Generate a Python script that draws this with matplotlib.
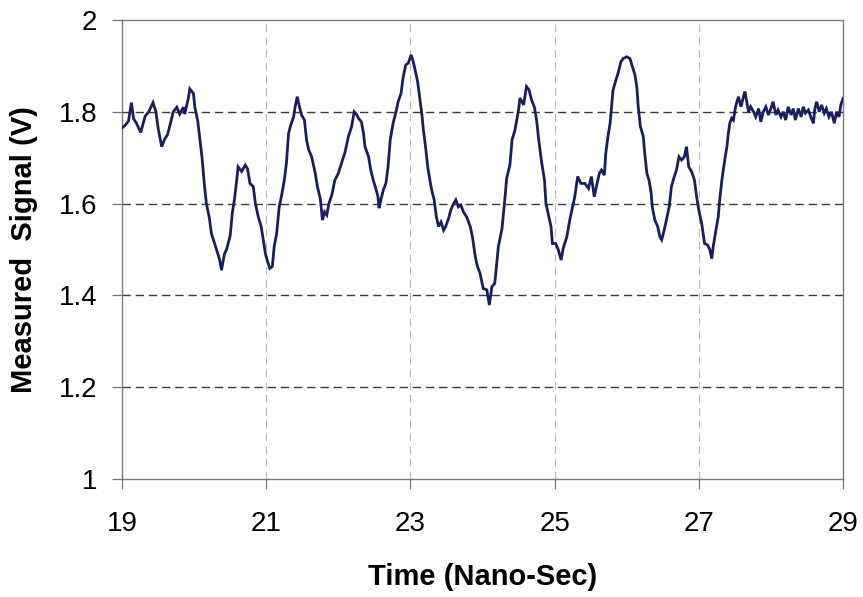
import matplotlib
matplotlib.use("Agg")
import matplotlib.pyplot as plt

# Time (ns)
time_ns = [
    19.00, 19.04, 19.09, 19.13, 19.16, 19.20, 19.26, 19.32, 19.37, 19.43,
    19.47, 19.50, 19.55, 19.59, 19.63, 19.68, 19.71, 19.76, 19.80, 19.85,
    19.87, 19.92, 19.94, 19.99, 20.01, 20.05, 20.08, 20.11, 20.14, 20.17,
    20.21, 20.24, 20.28, 20.31, 20.35, 20.38, 20.42, 20.45, 20.50, 20.53,
    20.56, 20.59, 20.61, 20.66, 20.71, 20.74, 20.775, 20.82, 20.85, 20.89,
    20.93, 20.96, 20.99, 21.02, 21.05, 21.085, 21.11, 21.145, 21.18, 21.21,
    21.25, 21.28, 21.31, 21.34, 21.38, 21.40, 21.43, 21.455, 21.49, 21.53,
    21.56, 21.59, 21.63, 21.68, 21.71, 21.75, 21.78, 21.81, 21.84, 21.87,
    21.91, 21.95, 22.00, 22.05, 22.09, 22.14, 22.185, 22.22, 22.25, 22.28,
    22.32, 22.35, 22.37, 22.42, 22.45, 22.49, 22.52, 22.55, 22.565, 22.59,
    22.625, 22.66, 22.69, 22.72, 22.76, 22.80, 22.83, 22.87, 22.90, 22.935,
    22.97, 23.01, 23.04, 23.065, 23.10, 23.13, 23.16, 23.18, 23.21, 23.24,
    23.27, 23.30, 23.33, 23.36, 23.39, 23.425, 23.46, 23.49, 23.53, 23.56,
    23.60, 23.63, 23.665, 23.70, 23.735, 23.78, 23.83, 23.86, 23.90, 23.93,
    23.966, 24.01, 24.06, 24.095, 24.13, 24.17, 24.22, 24.27, 24.31, 24.335,
    24.38, 24.41, 24.45, 24.50, 24.52, 24.57, 24.61, 24.645, 24.68, 24.72,
    24.75, 24.78, 24.82, 24.86, 24.88, 24.91, 24.95, 24.97, 25.015, 25.05,
    25.09, 25.12, 25.17, 25.21, 25.245, 25.28, 25.32, 25.365, 25.42, 25.47,
    25.51, 25.55, 25.58, 25.62, 25.65, 25.69, 25.71, 25.74, 25.77, 25.79,
    25.81, 25.85, 25.88, 25.92, 25.95, 26.00, 26.045, 26.08, 26.115, 26.14,
    26.16, 26.19, 26.23, 26.25, 26.28, 26.31, 26.34, 26.355, 26.39, 26.43,
    26.46, 26.485, 26.52, 26.55, 26.59, 26.62, 26.66, 26.69, 26.725, 26.76,
    26.80, 26.83, 26.86, 26.90, 26.94, 26.97, 27.00, 27.04, 27.08, 27.12,
    27.155, 27.18, 27.20, 27.23, 27.27, 27.29, 27.32, 27.34, 27.36, 27.39,
    27.41, 27.43, 27.456, 27.48, 27.51, 27.55, 27.585, 27.62, 27.64, 27.66,
    27.69, 27.72, 27.76, 27.79, 27.83, 27.86, 27.895, 27.93, 27.965, 28.00,
    28.03, 28.07, 28.10, 28.14, 28.17, 28.205, 28.24, 28.28, 28.31, 28.34,
    28.38, 28.42, 28.45, 28.48, 28.52, 28.56, 28.59, 28.61, 28.635, 28.67,
    28.705, 28.74, 28.77, 28.805, 28.84, 28.88, 28.91, 28.945, 28.97, 29.00,
]

# Measured signal (V)
signal_v = [
    1.765, 1.770, 1.780, 1.820, 1.785, 1.775, 1.755, 1.790, 1.800, 1.820,
    1.800, 1.765, 1.724, 1.740, 1.750, 1.780, 1.800, 1.810, 1.795, 1.810,
    1.795, 1.830, 1.850, 1.840, 1.810, 1.780, 1.740, 1.700, 1.645, 1.600,
    1.570, 1.535, 1.515, 1.500, 1.480, 1.455, 1.490, 1.500, 1.530, 1.580,
    1.610, 1.650, 1.680, 1.670, 1.684, 1.676, 1.644, 1.637, 1.600, 1.571,
    1.550, 1.520, 1.490, 1.473, 1.459, 1.463, 1.506, 1.535, 1.593, 1.615,
    1.650, 1.688, 1.753, 1.771, 1.789, 1.810, 1.833, 1.815, 1.793, 1.782,
    1.738, 1.717, 1.702, 1.666, 1.637, 1.611, 1.564, 1.582, 1.575, 1.600,
    1.619, 1.650, 1.666, 1.691, 1.710, 1.746, 1.768, 1.800, 1.795, 1.786,
    1.778, 1.753, 1.724, 1.702, 1.673, 1.648, 1.633, 1.615, 1.590, 1.608,
    1.630, 1.644, 1.680, 1.739, 1.775, 1.800, 1.822, 1.840, 1.876, 1.902,
    1.906, 1.924, 1.909, 1.891, 1.866, 1.830, 1.793, 1.760, 1.724, 1.680,
    1.651, 1.626, 1.608, 1.571, 1.550, 1.560, 1.542, 1.550, 1.568, 1.586,
    1.600, 1.608, 1.593, 1.597, 1.582, 1.571, 1.550, 1.528, 1.484, 1.463,
    1.448, 1.415, 1.412, 1.379, 1.419, 1.426, 1.506, 1.545, 1.610, 1.655,
    1.684, 1.739, 1.760, 1.804, 1.830, 1.815, 1.855, 1.848, 1.826, 1.810,
    1.782, 1.739, 1.690, 1.651, 1.600, 1.579, 1.550, 1.513, 1.513, 1.500,
    1.477, 1.503, 1.528, 1.564, 1.590, 1.615, 1.659, 1.644, 1.644, 1.633,
    1.659, 1.615, 1.637, 1.666, 1.673, 1.662, 1.710, 1.746, 1.775, 1.811,
    1.847, 1.869, 1.884, 1.909, 1.916, 1.920, 1.916, 1.898, 1.880, 1.855,
    1.811, 1.768, 1.746, 1.710, 1.666, 1.651, 1.622, 1.593, 1.564, 1.550,
    1.528, 1.521, 1.542, 1.564, 1.593, 1.637, 1.659, 1.673, 1.702, 1.695,
    1.702, 1.724, 1.680, 1.670, 1.651, 1.615, 1.586, 1.557, 1.513, 1.510,
    1.499, 1.480, 1.506, 1.535, 1.571, 1.608, 1.651, 1.673, 1.695, 1.724,
    1.753, 1.775, 1.786, 1.782, 1.811, 1.833, 1.811, 1.833, 1.844, 1.826,
    1.800, 1.811, 1.800, 1.789, 1.807, 1.778, 1.800, 1.811, 1.793, 1.807,
    1.822, 1.793, 1.804, 1.789, 1.800, 1.782, 1.811, 1.793, 1.807, 1.782,
    1.807, 1.789, 1.811, 1.797, 1.804, 1.786, 1.775, 1.807, 1.822, 1.800,
    1.815, 1.797, 1.807, 1.789, 1.800, 1.775, 1.800, 1.789, 1.815, 1.829,
]

x_ticks = [19, 21, 23, 25, 27, 29]
y_ticks = [1.0, 1.2, 1.4, 1.6, 1.8, 2.0]
y_tick_labels = ["1", "1.2", "1.4", "1.6", "1.8", "2"]

plt.rcParams['font.family'] = ['Liberation Sans', 'DejaVu Sans']

fig = plt.figure(figsize=(8.63, 5.97), dpi=100)
ax = fig.add_axes([0.1414, 0.1977, 0.8354, 0.7688])

ax.set_xlim(19, 29)
ax.set_ylim(1.0, 2.0)

# grid lines
for yv in [1.2, 1.4, 1.6, 1.8]:
    ax.axhline(yv, color='#3a3a3a', lw=1.0, dashes=(6, 3.5), zorder=1)
for xv in [21, 23, 25, 27]:
    ax.axvline(xv, color='#b8b8b8', lw=0.8, dashes=(7, 4.5), zorder=1)

ax.plot(time_ns, signal_v, color='#1b1e5c', lw=2.0, zorder=3,
        solid_joinstyle='miter')

ax.set_xticks(x_ticks)
ax.set_yticks(y_ticks)
ax.set_yticklabels(y_tick_labels)
ax.tick_params(axis='both', direction='out', length=7, width=0.9,
               color='#777777', labelsize=20)
ax.tick_params(axis='x', pad=16)
ax.tick_params(axis='y', pad=11)

for s in ax.spines.values():
    s.set_color('#7a7a7a')
    s.set_linewidth(1.0)

ax.set_xlabel('Time (Nano-Sec)', fontsize=21, fontweight='bold', labelpad=19)
ax.set_ylabel('Measured  Signal (V)', fontsize=21, fontweight='bold', labelpad=15)

fig.savefig('out.png', dpi=100)
